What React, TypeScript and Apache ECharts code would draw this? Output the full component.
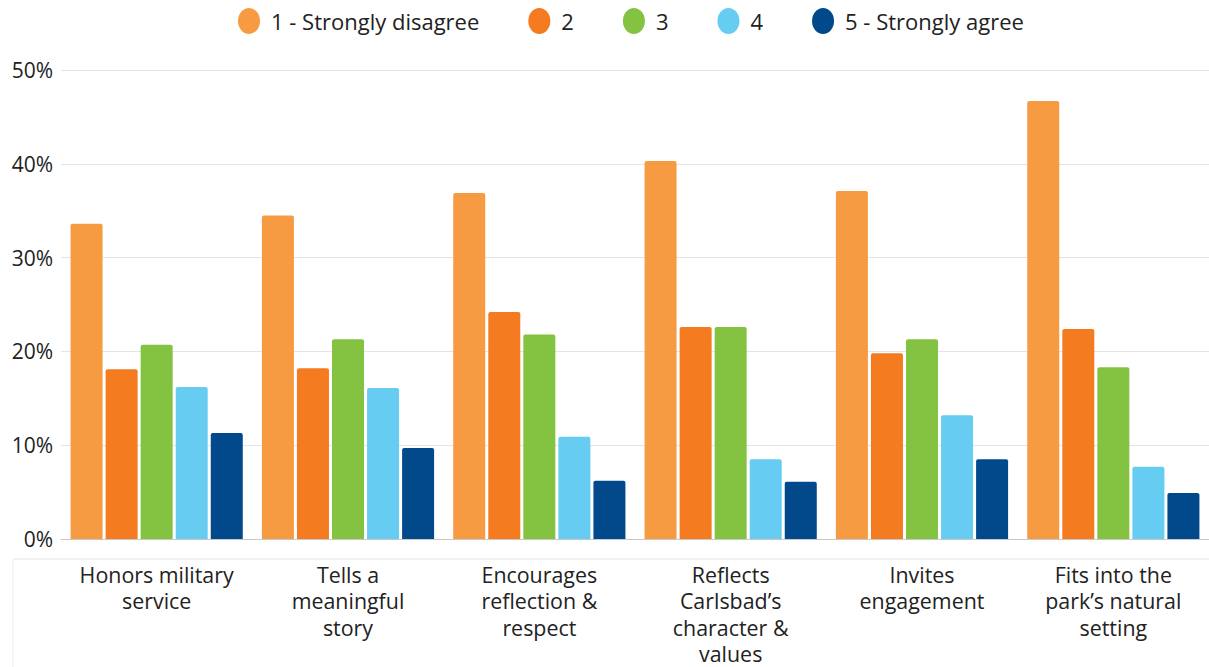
import React, { useEffect, useRef } from "react";
import * as echarts from "echarts";

const categories = [
  "Honors military\nservice",
  "Tells a\nmeaningful\nstory",
  "Encourages\nreflection &\nrespect",
  "Reflects\nCarlsbad’s\ncharacter &\nvalues",
  "Invites\nengagement",
  "Fits into the\npark’s natural\nsetting",
];
const seriesNames = ["1 - Strongly disagree", "2", "3", "4", "5 - Strongly agree"];
const stronglyDisagree = [33.6, 34.5, 36.9, 40.3, 37.1, 46.7];
const rating2 = [18.1, 18.2, 24.2, 22.6, 19.8, 22.4];
const rating3 = [20.7, 21.3, 21.8, 22.6, 21.3, 18.3];
const rating4 = [16.2, 16.1, 10.9, 8.5, 13.2, 7.7];
const stronglyAgree = [11.3, 9.7, 6.2, 6.1, 8.5, 4.9];
const yTicks = [0, 10, 20, 30, 40, 50];

const colors = ["#F79B43", "#F47B20", "#84C341", "#67CCF1", "#02498C"];
const FONT = "Open Sans";
const ELLIPSE = "path://M11,0 A11,13 0 1,1 11,26 A11,13 0 1,1 11,0 Z";

export default function App() {
  const ref = useRef<HTMLDivElement>(null);
  useEffect(() => {
    if (!ref.current) return;
    const chart = echarts.init(ref.current, undefined, { renderer: "svg" });
    const data = [stronglyDisagree, rating2, rating3, rating4, stronglyAgree];
    chart.setOption({
      animation: false,
      textStyle: { fontFamily: FONT },
      legend: {
        top: 3,
        left: 233,
        icon: ELLIPSE,
        itemWidth: 22,
        itemHeight: 26,
        itemGap: 49,
        textStyle: {
          fontFamily: FONT,
          fontSize: 22,
          color: "#222",
          padding: [0, 0, 0, 6],
        },
        data: seriesNames,
      },
      grid: { left: 61, right: 0, top: 70, bottom: 128, containLabel: false },
      xAxis: {
        type: "category",
        data: categories,
        axisTick: { show: false },
        axisLine: { show: true, lineStyle: { color: "#c8c8c8", width: 1 } },
        axisLabel: {
          margin: 22,
          fontFamily: FONT,
          fontSize: 21.4,
          lineHeight: 26.5,
          color: "#222",
          align: "center",
          interval: 0,
        },
      },
      yAxis: {
        type: "value",
        min: yTicks[0],
        max: yTicks[yTicks.length - 1],
        interval: 10,
        axisLine: { show: false },
        axisTick: { show: false },
        splitLine: { lineStyle: { color: "#e4e4e4", width: 1 } },
        axisLabel: {
          formatter: "{value}%",
          margin: 8,
          fontFamily: FONT,
          fontSize: 21,
          color: "#222",
        },
      },
      graphic: [
        {
          type: "line",
          shape: { x1: 13, y1: 559, x2: 1209, y2: 559 },
          style: { stroke: "#e2e2e2", lineWidth: 1 },
        },
        {
          type: "line",
          shape: { x1: 13, y1: 559, x2: 13, y2: 667 },
          style: { stroke: "#eeeeee", lineWidth: 1 },
        },
      ],
      series: seriesNames.map((name, i) => ({
        name,
        type: "bar",
        data: data[i],
        barGap: "9.5%",
        barCategoryGap: "10%",
        itemStyle: { color: colors[i], borderRadius: [2, 2, 0, 0] },
      })),
    });
    return () => chart.dispose();
  }, []);
  return (
    <div
      ref={ref}
      style={{ position: "absolute", left: 0, top: 0, width: 1209, height: 667 }}
    />
  );
}
